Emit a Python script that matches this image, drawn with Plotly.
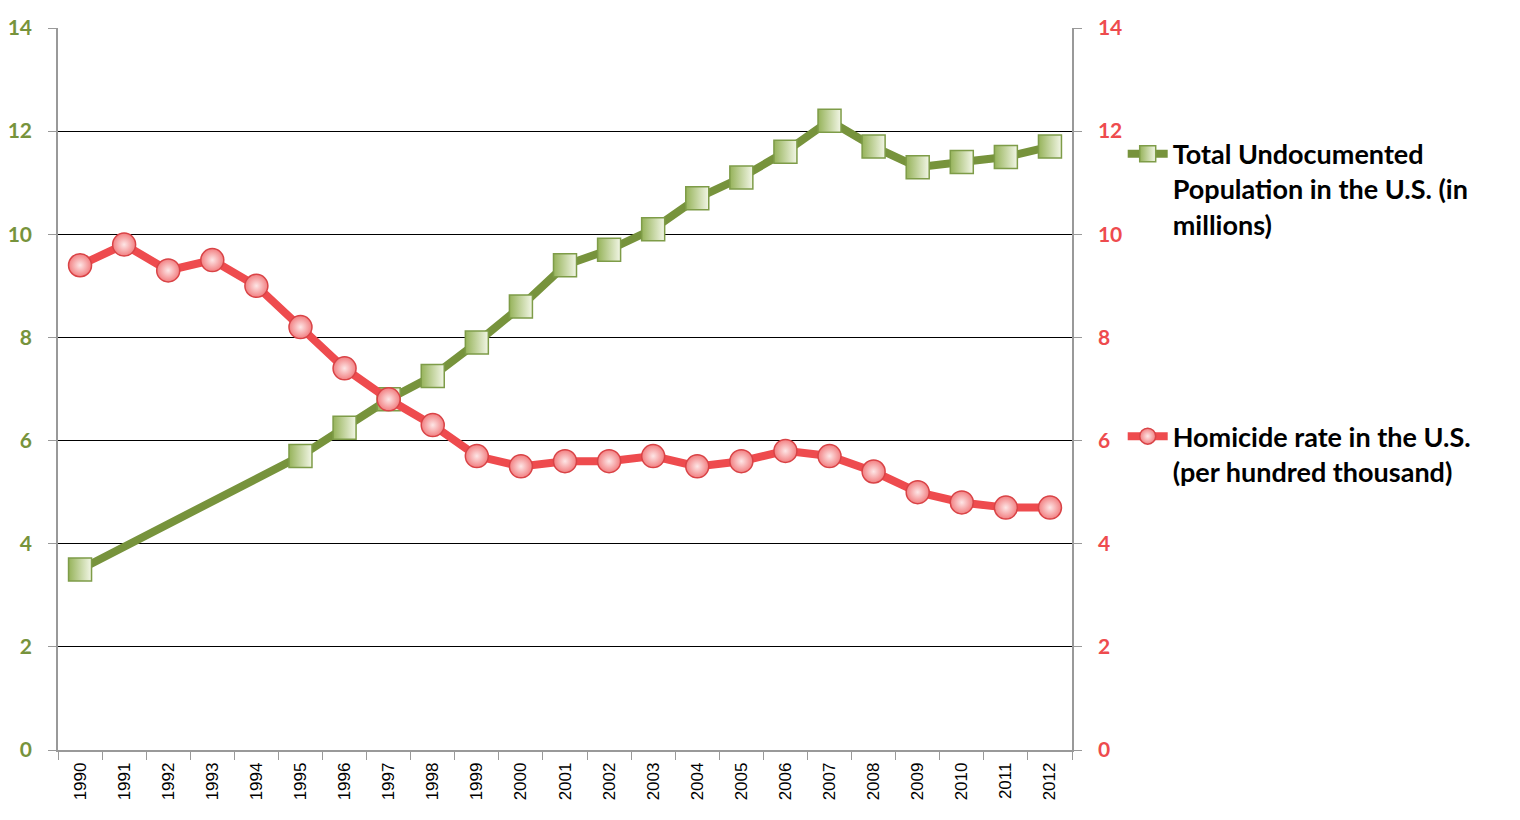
import plotly.graph_objects as go

years = [str(y) for y in range(1990, 2013)]
undocumented = [3.5, None, None, None, None, 5.7, 6.25, 6.8, 7.25, 7.9, 8.6, 9.4,
                9.7, 10.1, 10.7, 11.1, 11.6, 12.2, 11.7, 11.3, 11.4, 11.5, 11.7]
homicide = [9.4, 9.8, 9.3, 9.5, 9.0, 8.2, 7.4, 6.8, 6.3, 5.7, 5.5, 5.6,
            5.6, 5.7, 5.5, 5.6, 5.8, 5.7, 5.4, 5.0, 4.8, 4.7, 4.7]
y_ticks = [0, 2, 4, 6, 8, 10, 12, 14]

green = '#77933C'
red = '#EE4B4E'

fig = go.Figure()
fig.add_trace(go.Scatter(
    x=years, y=undocumented, mode='lines+markers', connectgaps=True,
    name='Total Undocumented<br>Population in the U.S. (in<br>millions)',
    line=dict(color=green, width=8),
    marker=dict(symbol='square', size=23, color='#96B35A',
                gradient=dict(type='horizontal', color='#F2F6E6'),
                line=dict(color='#7E9C48', width=1.5)),
    legend='legend'))
fig.add_trace(go.Scatter(
    x=years, y=homicide, mode='lines+markers', yaxis='y2',
    name='Homicide rate in the U.S.<br>(per hundred thousand)',
    line=dict(color=red, width=8),
    marker=dict(symbol='circle', size=23, color='#F27F81',
                gradient=dict(type='radial', color='#FDE6E6'),
                line=dict(color='#D94346', width=1.5)),
    legend='legend2'))

legend_font = dict(family='Lato', size=27, color='black', weight='bold')
# page body has an 8px margin, so the figure is drawn 8px smaller
fig.update_layout(
    width=1512, height=812,
    margin=dict(l=50, r=448, t=20, b=70),
    plot_bgcolor='white', paper_bgcolor='white',
    showlegend=True,
    legend=dict(x=1.05, y=0.859, xanchor='left', yanchor='top', valign='top',
                font=legend_font, itemwidth=40, bgcolor='rgba(0,0,0,0)'),
    legend2=dict(x=1.05, y=0.468, xanchor='left', yanchor='top', valign='top',
                 font=legend_font, itemwidth=40, bgcolor='rgba(0,0,0,0)'),
    xaxis=dict(type='category', categoryorder='array', categoryarray=years,
               range=[-0.5, 22.5], automargin=False, ticklabelstandoff=4,
               tickangle=-90, tickson='boundaries', ticks='outside', ticklen=8,
               tickcolor='#999999', showline=True, linecolor='#999999', linewidth=1.5,
               showgrid=False, tickfont=dict(family='Liberation Sans', size=17, color='black')),
    yaxis=dict(range=[0, 14], tickvals=y_ticks, showgrid=True, gridcolor='black',
               gridwidth=1, showline=True, linecolor='#999999', linewidth=1.5,
               ticks='outside', ticklen=8, tickcolor='#999999', zeroline=False,
               automargin=False, ticklabelstandoff=12,
               tickfont=dict(family='Lato', size=21, color=green, weight='bold')),
    yaxis2=dict(range=[0, 14], tickvals=y_ticks, overlaying='y', side='right',
                showgrid=False, showline=True, linecolor='#999999', linewidth=1.5,
                ticks='outside', ticklen=8, tickcolor='#999999', zeroline=False,
                automargin=False, ticklabelstandoff=12,
                tickfont=dict(family='Lato', size=21, color=red, weight='bold')),
)

fig.write_html('out.html')
